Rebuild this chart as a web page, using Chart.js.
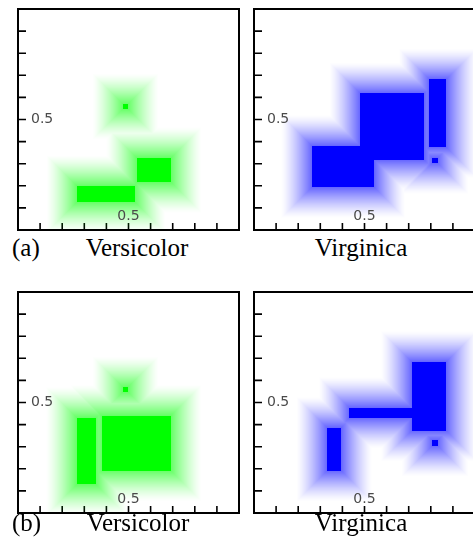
<!DOCTYPE html>
<html lang="en">
<head>
  <meta charset="UTF-8">
  <title>Fuzzy boxes</title>
  <script src="https://cdn.jsdelivr.net/npm/chart.js"></script>
  <style>
    body { margin: 0; width: 473px; height: 545px; overflow: hidden; background: #fff; position: relative; }
    canvas { position: absolute; }
    .lab { position: absolute; font-family: "Liberation Serif", "Times New Roman", serif; font-size: 25px; line-height: 25px; white-space: nowrap; color: #000; }
  </style>
  <script>
    // boxes: [xMin, xMax, yMin, yMax]
    const versicolorA = [[0.267, 0.529, 0.127, 0.199], [0.538, 0.692, 0.217, 0.326], [0.476, 0.497, 0.549, 0.569]]
    const virginicaA = [[0.262, 0.545, 0.193, 0.381], [0.480, 0.771, 0.317, 0.619], [0.794, 0.870, 0.375, 0.682], [0.807, 0.831, 0.303, 0.326]]
    const versicolorB = [[0.266, 0.353, 0.129, 0.431], [0.379, 0.692, 0.192, 0.441], [0.476, 0.497, 0.549, 0.569]]
    const virginicaB = [[0.331, 0.395, 0.192, 0.386], [0.432, 0.719, 0.431, 0.476], [0.714, 0.870, 0.373, 0.684], [0.807, 0.831, 0.305, 0.329]]
    const tickValues = [0.1, 0.2, 0.3, 0.4, 0.5, 0.6, 0.7, 0.8, 0.9]
    const labelValue = 0.5

    const green = [0, 255, 0]
    const blue = [0, 0, 255]
    const reach = 0.14

    function membership(boxes, x, y) {
      let m = 0
      for (const b of boxes) {
        const dx = Math.max(b[0] - x, 0, x - b[1])
        const dy = Math.max(b[2] - y, 0, y - b[3])
        const d = Math.max(dx, dy)
        let v = 0
        if (d === 0) v = 1
        else if (d < reach) v = 0.6 * Math.pow(1 - d / reach, 1.35)
        if (v > m) m = v
      }
      return m
    }

    const boxPlugin = {
      id: 'boxes',
      afterDraw(chart) {
        const ctx = chart.ctx
        const ca = chart.chartArea
        const xs = chart.scales.x
        const ys = chart.scales.y
        const o = chart.options.plugins.boxes
        const w = Math.round(ca.right - ca.left)
        const h = Math.round(ca.bottom - ca.top)

        // inward ticks
        ctx.save()
        ctx.strokeStyle = '#000'
        ctx.lineWidth = 1.6
        ctx.beginPath()
        tickValues.forEach(v => {
          const px = xs.getPixelForValue(v)
          ctx.moveTo(px, ca.bottom)
          ctx.lineTo(px, ca.bottom - 7)
          const py = ys.getPixelForValue(v)
          ctx.moveTo(ca.left, py)
          ctx.lineTo(ca.left + 8, py)
        })
        ctx.stroke()

        // fuzzy membership shading
        const off = document.createElement('canvas')
        off.width = w
        off.height = h
        const octx = off.getContext('2d')
        const img = octx.createImageData(w, h)
        for (let j = 0; j < h; j++) {
          const y = ys.getValueForPixel(ca.top + j + 0.5)
          for (let i = 0; i < w; i++) {
            const x = xs.getValueForPixel(ca.left + i + 0.5)
            const m = membership(o.data, x, y)
            const k = (j * w + i) * 4
            img.data[k] = o.color[0]
            img.data[k + 1] = o.color[1]
            img.data[k + 2] = o.color[2]
            img.data[k + 3] = Math.round(m * 255)
          }
        }
        octx.putImageData(img, 0, 0)
        ctx.drawImage(off, ca.left, ca.top)

        // frame
        ctx.lineWidth = 2
        ctx.strokeRect(ca.left, ca.top, w, h)

        // the 0.5 labels
        ctx.fillStyle = '#4a4a4a'
        ctx.font = '14px "DejaVu Sans", sans-serif'
        ctx.textAlign = 'left'
        ctx.textBaseline = 'middle'
        ctx.fillText('0.5', ca.left + 13, ys.getPixelForValue(labelValue))
        ctx.textAlign = 'center'
        ctx.textBaseline = 'alphabetic'
        ctx.fillText('0.5', xs.getPixelForValue(labelValue), ca.bottom - 10)
        ctx.restore()
      }
    }

    function panel(id, boxes, color) {
      new Chart(document.getElementById(id), {
        type: 'scatter',
        data: { datasets: [{ data: [] }] },
        options: {
          responsive: false,
          animation: false,
          layout: { padding: 4 },
          plugins: {
            legend: { display: false },
            tooltip: { enabled: false },
            boxes: { data: boxes, color: color }
          },
          scales: {
            x: { type: 'linear', min: 0, max: 1, display: false },
            y: { type: 'linear', min: 0, max: 1, display: false }
          }
        },
        plugins: [boxPlugin]
      })
    }

    window.onload = () => {
      panel('c1', versicolorA, green)
      panel('c2', virginicaA, blue)
      panel('c3', versicolorB, green)
      panel('c4', virginicaB, blue)
    }
  </script>
</head>
<body>
  <canvas id="c1" width="229" height="229" style="left:14px; top:5px"></canvas>
  <canvas id="c2" width="229" height="229" style="left:250px; top:5px"></canvas>
  <canvas id="c3" width="229" height="229" style="left:14px; top:288px"></canvas>
  <canvas id="c4" width="229" height="229" style="left:250px; top:288px"></canvas>

  <div class="lab" style="left:12px; top:235px">(a)</div>
  <div class="lab" style="left:137px; top:235px; transform:translateX(-50%)">Versicolor</div>
  <div class="lab" style="left:361px; top:235px; transform:translateX(-50%)">Virginica</div>
  <div class="lab" style="left:12px; top:510px">(b)</div>
  <div class="lab" style="left:138px; top:510px; transform:translateX(-50%)">Versicolor</div>
  <div class="lab" style="left:361px; top:510px; transform:translateX(-50%)">Virginica</div>
</body>
</html>
